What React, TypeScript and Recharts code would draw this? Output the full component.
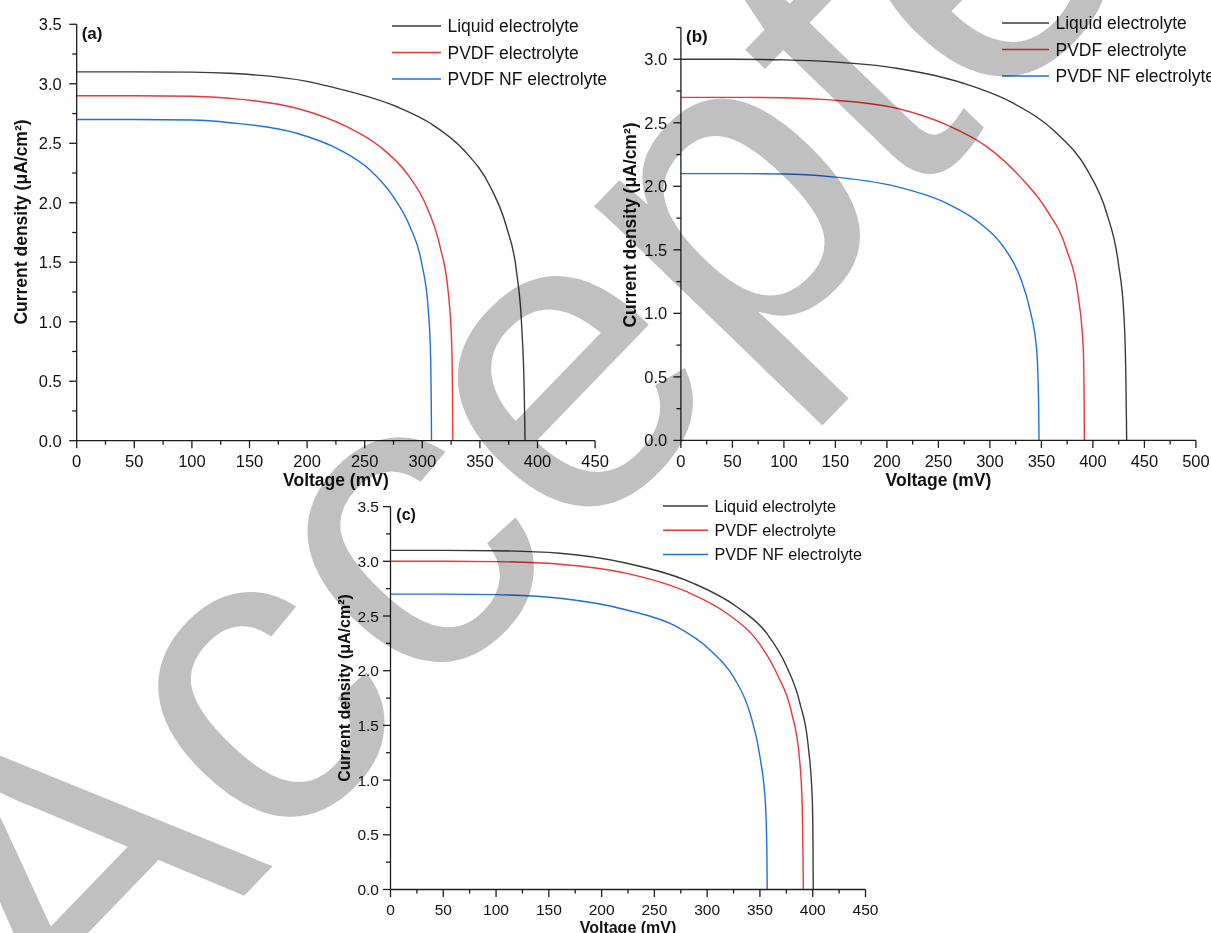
import { LineChart, Line, XAxis, YAxis, Legend } from "recharts";

const FONT = "'Liberation Sans', Arial, Helvetica, sans-serif";
const AXIS_COLOR = "#1c1c1c";
const SERIES_COLORS = ["#3a3a3a", "#ee3434", "#1e6ee4"];
const SERIES_NAMES = ["Liquid electrolyte", "PVDF electrolyte", "PVDF NF electrolyte"];

// (a) J–V curves, [voltage mV, current density µA/cm²]
const liquidA: [number, number][] = [
  [0, 3.1], [50, 3.1], [100, 3.098], [133, 3.088], [200, 3.02], [220, 2.976],
  [278, 2.807], [307, 2.668], [336, 2.443], [359, 2.135], [373, 1.8],
  [382, 1.407], [386.3, 0.958], [388.5, 0.4], [389.2, 0],
];
const pvdfA: [number, number][] = [
  [0, 2.9], [50, 2.9], [100, 2.895], [133, 2.878], [191, 2.794], [234.4, 2.639],
  [263.3, 2.471], [286.5, 2.248], [303.8, 1.967], [315.4, 1.631], [322.6, 1.239],
  [325.5, 0.819], [326.2, 0.4], [326.5, 0],
];
const pvdfNfA: [number, number][] = [
  [0, 2.7], [50, 2.7], [100, 2.695], [133, 2.673], [191, 2.584], [228.6, 2.443],
  [254.6, 2.275], [274.8, 2.051], [289.3, 1.799], [299.5, 1.491], [305.2, 1.099],
  [307.3, 0.678], [307.8, 0.3], [308, 0],
];

// (b)
const liquidB: [number, number][] = [
  [0, 3.0], [50, 3.0], [100, 2.995], [144.8, 2.981], [209.5, 2.929], [274.2, 2.811],
  [322.7, 2.654], [364.9, 2.418], [394.5, 2.129], [413.4, 1.788], [424.7, 1.394],
  [430.2, 0.974], [432.1, 0.45], [432.8, 0],
];
const pvdfB: [number, number][] = [
  [0, 2.7], [50, 2.7], [100, 2.697], [144.8, 2.68], [209.5, 2.614], [258.1, 2.483],
  [296.9, 2.312], [329.2, 2.076], [355.1, 1.814], [374.6, 1.499], [385.8, 1.131],
  [390.7, 0.712], [391.5, 0.3], [391.7, 0],
];
const pvdfNfB: [number, number][] = [
  [0, 2.1], [50, 2.1], [100, 2.097], [144.8, 2.076], [209.5, 1.997], [258.1, 1.866],
  [290.4, 1.709], [313, 1.525], [329.2, 1.289], [338.9, 1.027], [345.4, 0.712],
  [347.3, 0.3], [347.7, 0],
];

// (c)
const liquidC: [number, number][] = [
  [0, 3.1], [50, 3.1], [100, 3.097], [160.6, 3.073], [223.8, 2.982], [286.9, 2.799],
  [328, 2.585], [356.4, 2.342], [375.3, 2.037], [387.9, 1.702], [395.8, 1.305],
  [399.6, 0.818], [400.3, 0.35], [400.5, 0],
];
const pvdfC: [number, number][] = [
  [0, 3.0], [50, 3.0], [100, 2.997], [160.6, 2.973], [223.8, 2.89], [280.6, 2.722],
  [318.5, 2.525], [346.9, 2.281], [365.9, 1.976], [380.1, 1.611], [387.3, 1.214],
  [390.1, 0.757], [390.8, 0.3], [391.1, 0],
];
const pvdfNfC: [number, number][] = [
  [0, 2.7], [50, 2.7], [100, 2.695], [160.6, 2.662], [223.8, 2.555], [271.1, 2.402],
  [302.7, 2.189], [324.8, 1.945], [340.6, 1.611], [350, 1.214], [355.4, 0.757],
  [356.6, 0.3], [356.9, 0],
];

const voltageTicks450 = [0, 25, 50, 75, 100, 125, 150, 175, 200, 225, 250, 275, 300, 325, 350, 375, 400, 425, 450];
const voltageTicks500 = [0, 25, 50, 75, 100, 125, 150, 175, 200, 225, 250, 275, 300, 325, 350, 375, 400, 425, 450, 475, 500];
const currentTicks350 = [0, 0.25, 0.5, 0.75, 1, 1.25, 1.5, 1.75, 2, 2.25, 2.5, 2.75, 3, 3.25, 3.5];
const currentTicks325 = [0, 0.25, 0.5, 0.75, 1, 1.25, 1.5, 1.75, 2, 2.25, 2.5, 2.75, 3, 3.25];

const X_TITLE = "Voltage (mV)";
const Y_TITLE = "Current density (μA/cm²)";
const WATERMARK = "Accepted";

interface PanelConfig {
  tag: string;
  left: number;
  top: number;
  width: number;
  height: number;
  plot: { left: number; right: number; top: number; bottom: number };
  xMax: number;
  yMax: number;
  xTicks: number[];
  yTicks: number[];
  series: [number, number][][];
  tickFont: number;
  yTickGap: number;
  xTickDy: number;
  titleFont: number;
  xTitleY: number;
  yTitle: { x: number; y: number };
  tagPos: { x: number; y: number; size: number };
  legend: { x: number; y: number; gap: number; font: number; lineLen: number };
}

const panels: PanelConfig[] = [
  {
    tag: "(a)",
    left: 0, top: 0, width: 620, height: 500,
    plot: { left: 76.7, right: 595.1, top: 24.3, bottom: 440.7 },
    xMax: 450, yMax: 3.5,
    xTicks: voltageTicks450, yTicks: currentTicks350,
    series: [liquidA, pvdfA, pvdfNfA],
    tickFont: 16.5, yTickGap: 15, xTickDy: 26.3,
    titleFont: 17.5, xTitleY: 485.5, yTitle: { x: 27, y: 222 },
    tagPos: { x: 81.7, y: 39, size: 17 },
    legend: { x: 392, y: 26, gap: 26.5, font: 17.5, lineLen: 49 },
  },
  {
    tag: "(b)",
    left: 600, top: 0, width: 611, height: 500,
    plot: { left: 80.9, right: 595.9, top: 27.5, bottom: 440.4 },
    xMax: 500, yMax: 3.25,
    xTicks: voltageTicks500, yTicks: currentTicks325,
    series: [liquidB, pvdfB, pvdfNfB],
    tickFont: 16.5, yTickGap: 13.7, xTickDy: 26.8,
    titleFont: 17.5, xTitleY: 485.5, yTitle: { x: 36, y: 225 },
    tagPos: { x: 86, y: 42, size: 17 },
    legend: { x: 402, y: 23, gap: 26.5, font: 17.5, lineLen: 47 },
  },
  {
    tag: "(c)",
    left: 320, top: 480, width: 560, height: 453,
    plot: { left: 70.5, right: 545.5, top: 26.6, bottom: 409.5 },
    xMax: 450, yMax: 3.5,
    xTicks: voltageTicks450, yTicks: currentTicks350,
    series: [liquidC, pvdfC, pvdfNfC],
    tickFont: 15.5, yTickGap: 11.5, xTickDy: 25.5,
    titleFont: 16, xTitleY: 452.5, yTitle: { x: 30, y: 208 },
    tagPos: { x: 76.3, y: 40, size: 16 },
    legend: { x: 343, y: 25.7, gap: 24.2, font: 16.2, lineLen: 45 },
  },
];

const Y_AXIS_WIDTH = 60;
const X_AXIS_HEIGHT = 40;

const isMultiple = (value: number, step: number) =>
  Math.abs(value / step - Math.round(value / step)) < 1e-6;

function Panel({ cfg }: { cfg: PanelConfig }) {
  const { plot } = cfg;
  const margin = {
    left: plot.left - Y_AXIS_WIDTH,
    right: cfg.width - plot.right,
    top: plot.top,
    bottom: cfg.height - plot.bottom - X_AXIS_HEIGHT,
  };
  const plotCenterX = (plot.left + plot.right) / 2;

  const xTick = (props: any) => {
    const { x, y, payload } = props;
    const major = isMultiple(payload.value, 50);
    return (
      <g>
        <line x1={x} x2={x} y1={y} y2={y + (major ? 7.5 : 4)} stroke={AXIS_COLOR} strokeWidth={1.3} />
        {major && (
          <text x={x} y={y + cfg.xTickDy} textAnchor="middle" fontSize={cfg.tickFont} fontFamily={FONT} fill="#111">
            {payload.value}
          </text>
        )}
      </g>
    );
  };

  const yTick = (props: any) => {
    const { x, y, payload } = props;
    const major = isMultiple(payload.value, 0.5);
    return (
      <g>
        <line x1={x} x2={x - (major ? 7.5 : 4.5)} y1={y} y2={y} stroke={AXIS_COLOR} strokeWidth={1.3} />
        {major && (
          <text x={x - cfg.yTickGap} y={y} dy="0.36em" textAnchor="end" fontSize={cfg.tickFont} fontFamily={FONT} fill="#111">
            {payload.value.toFixed(1)}
          </text>
        )}
      </g>
    );
  };

  const xTitle = () => (
    <text x={plotCenterX} y={cfg.xTitleY} textAnchor="middle" fontSize={cfg.titleFont} fontWeight="bold" fontFamily={FONT} fill="#111">
      {X_TITLE}
    </text>
  );

  const yTitle = () => (
    <g>
      <text
        transform={`translate(${cfg.yTitle.x},${cfg.yTitle.y}) rotate(-90)`}
        textAnchor="middle"
        fontSize={cfg.titleFont}
        fontWeight="bold"
        fontFamily={FONT}
        fill="#111"
      >
        {Y_TITLE}
      </text>
      <text x={cfg.tagPos.x} y={cfg.tagPos.y} fontSize={cfg.tagPos.size} fontWeight="bold" fontFamily={FONT} fill="#111">
        {cfg.tag}
      </text>
    </g>
  );

  const lg = cfg.legend;
  const legendContent = () => (
    <svg width={240} height={lg.gap * 3 + 10} style={{ display: "block", overflow: "visible" }}>
      {SERIES_NAMES.map((name, i) => {
        const cy = 10 + i * lg.gap;
        return (
          <g key={name}>
            <line x1={0} x2={lg.lineLen} y1={cy} y2={cy} stroke={SERIES_COLORS[i]} strokeWidth={1.5} />
            <text x={lg.lineLen + 6.5} y={cy} dy="0.36em" fontSize={lg.font} fontFamily={FONT} fill="#111">
              {name}
            </text>
          </g>
        );
      })}
    </svg>
  );

  return (
    <div style={{ position: "absolute", left: cfg.left, top: cfg.top }}>
      <LineChart width={cfg.width} height={cfg.height} margin={margin}>
        <XAxis
          type="number"
          dataKey="v"
          domain={[0, cfg.xMax]}
          ticks={cfg.xTicks}
          interval={0}
          allowDataOverflow
          height={X_AXIS_HEIGHT}
          tickSize={0}
          tickMargin={0}
          tickLine={false}
          axisLine={{ stroke: AXIS_COLOR, strokeWidth: 1.3 }}
          tick={xTick}
          label={xTitle}
        />
        <YAxis
          type="number"
          domain={[0, cfg.yMax]}
          ticks={cfg.yTicks}
          interval={0}
          allowDataOverflow
          width={Y_AXIS_WIDTH}
          tickSize={0}
          tickMargin={0}
          tickLine={false}
          axisLine={{ stroke: AXIS_COLOR, strokeWidth: 1.3 }}
          tick={yTick}
          label={yTitle}
        />
        {cfg.series.map((pairs, i) => (
          <Line
            key={SERIES_NAMES[i]}
            name={SERIES_NAMES[i]}
            data={pairs.map(([v, j]) => ({ v, j }))}
            dataKey="j"
            type="monotone"
            stroke={SERIES_COLORS[i]}
            strokeWidth={1.4}
            dot={false}
            activeDot={false}
            isAnimationActive={false}
          />
        ))}
        <Legend
          layout="vertical"
          verticalAlign="middle"
          align="center"
          content={legendContent}
          wrapperStyle={{ left: lg.x, top: lg.y - 10, width: 240, height: lg.gap * 3 + 10 }}
        />
      </LineChart>
    </div>
  );
}

export default function App() {
  return (
    <div
      style={{
        position: "absolute",
        left: 0,
        top: 0,
        width: 1211,
        height: 933,
        overflow: "hidden",
        background: "#fff",
        isolation: "isolate",
      }}
    >
      {panels.map((cfg) => (
        <Panel key={cfg.tag} cfg={cfg} />
      ))}
      {/* diagonal stamp, multiplied over the plots */}
      <svg
        width={1211}
        height={933}
        style={{ position: "absolute", left: 0, top: 0, mixBlendMode: "multiply", pointerEvents: "none", zIndex: 5 }}
      >
        <text
          transform="translate(74,1072) rotate(-46)"
          fontSize={430}
          fontFamily={FONT}
          fill="#c0c0c0"
        >
          {WATERMARK}
        </text>
      </svg>
    </div>
  );
}
